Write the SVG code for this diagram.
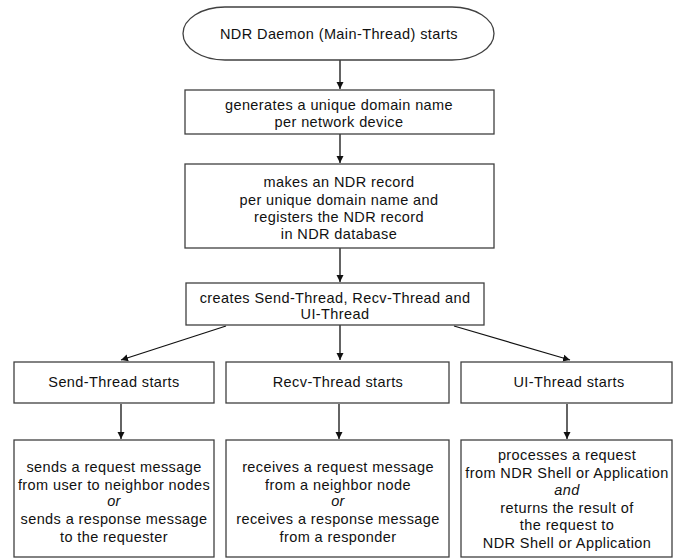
<svg xmlns="http://www.w3.org/2000/svg" width="680" height="559" viewBox="0 0 680 559">
<style>
.box{fill:#fff;stroke:#404040;stroke-width:1.3}
.t{font-family:"Liberation Sans",Arial,sans-serif;font-size:14.5px;letter-spacing:0.4px;fill:#111;text-anchor:middle}
.i{font-style:italic}
.c{stroke:#111;stroke-width:1.3;fill:none;marker-end:url(#ah)}
</style>
<defs>
<marker id="ah" markerWidth="8" markerHeight="9" refX="7" refY="4.5" orient="auto" markerUnits="userSpaceOnUse">
<path d="M0,1 L7,4.5 L0,8 Z" fill="#111"/>
</marker>
</defs>
<rect width="680" height="559" fill="#fff"/>
<g id="connectors">
<line class="c" x1="340" y1="60" x2="340" y2="89"/>
<line class="c" x1="340" y1="134" x2="340" y2="163"/>
<line class="c" x1="340" y1="248" x2="340" y2="282"/>
<line class="c" x1="340" y1="325" x2="340" y2="360"/>
<line class="c" x1="226" y1="326" x2="121" y2="360"/>
<line class="c" x1="454" y1="326" x2="570" y2="360"/>
<line class="c" x1="121" y1="404" x2="121" y2="439"/>
<line class="c" x1="339" y1="404" x2="339" y2="439"/>
<line class="c" x1="567" y1="404" x2="567" y2="439"/>
</g>
<g id="start">
<rect class="box" x="183" y="7" width="311" height="53" rx="42" ry="26.5"/>
<text class="t" x="339" y="39">NDR Daemon (Main-Thread) starts</text>
</g>
<g id="generate">
<rect class="box" x="185" y="90" width="309" height="44"/>
<text class="t" x="339" y="110">generates a unique domain name</text>
<text class="t" x="339" y="127">per network device</text>
</g>
<g id="record">
<rect class="box" x="185" y="164" width="309" height="84"/>
<text class="t" x="339" y="187">makes an NDR record</text>
<text class="t" x="339" y="205">per unique domain name and</text>
<text class="t" x="339" y="222">registers the NDR record</text>
<text class="t" x="339" y="239">in NDR database</text>
</g>
<g id="create">
<rect class="box" x="186" y="283" width="298" height="42"/>
<text class="t" x="335" y="303">creates Send-Thread, Recv-Thread and</text>
<text class="t" x="335" y="319">UI-Thread</text>
</g>
<g id="send">
<rect class="box" x="14" y="362" width="200" height="41"/>
<text class="t" x="114" y="387">Send-Thread starts</text>
</g>
<g id="recv">
<rect class="box" x="226" y="362" width="223" height="41"/>
<text class="t" x="338" y="387">Recv-Thread starts</text>
</g>
<g id="ui">
<rect class="box" x="461" y="362" width="211" height="41"/>
<text class="t" x="569" y="387">UI-Thread starts</text>
</g>
<g id="send-task">
<rect class="box" x="14" y="440" width="200" height="117"/>
<text class="t" x="114" y="472">sends a request message</text>
<text class="t" x="114" y="490">from user to neighbor nodes</text>
<text class="t i" x="114" y="506">or</text>
<text class="t" x="114" y="524">sends a response message</text>
<text class="t" x="114" y="542">to the requester</text>
</g>
<g id="recv-task">
<rect class="box" x="226" y="440" width="223" height="117"/>
<text class="t" x="338" y="472">receives a request message</text>
<text class="t" x="338" y="490">from a neighbor node</text>
<text class="t i" x="338" y="506">or</text>
<text class="t" x="338" y="524">receives a response message</text>
<text class="t" x="338" y="542">from a responder</text>
</g>
<g id="ui-task">
<rect class="box" x="461" y="440" width="211" height="117"/>
<text class="t" x="567" y="460">processes a request</text>
<text class="t" x="567" y="478">from NDR Shell or Application</text>
<text class="t i" x="567" y="495">and</text>
<text class="t" x="567" y="513">returns the result of</text>
<text class="t" x="567" y="530">the request to</text>
<text class="t" x="567" y="548">NDR Shell or Application</text>
</g>
</svg>
